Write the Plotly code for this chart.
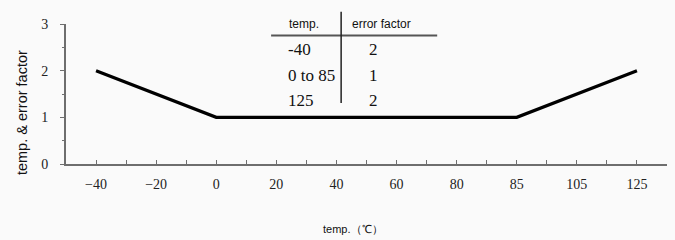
import plotly.graph_objects as go

# ---- data ----
temp_categories = ["-40", "-20", "0", "20", "40", "60", "80", "85", "105", "125"]
line_temps = ["-40", "0", "85", "125"]
error_factor = [2, 1, 1, 2]

table_header = ["temp.", "error factor"]
table_temps = ["-40", "0 to 85", "125"]
table_factors = ["2", "1", "2"]

# ---- layout geometry (pixels) ----
W, H = 675, 240
L, R, T, B = 66, 8.3, 24.3, 76.3
PW, PH = W - L - R, H - T - B


def px(x):
    return (x - L) / PW


def py(y):
    return (H - B - y) / PH


AX = "#6e6e6e"
SERIF = "Liberation Serif, Times New Roman, serif"
SANS = "Liberation Sans, Arial, sans-serif"

fig = go.Figure()
fig.add_trace(go.Scatter(
    x=line_temps, y=error_factor, mode="lines",
    line=dict(color="black", width=3.2), showlegend=False, hoverinfo="skip",
))
# invisible trace on overlay axis to get center ticks
fig.add_trace(go.Scatter(
    x=temp_categories, y=[None] * len(temp_categories), xaxis="x2",
    mode="markers", showlegend=False, hoverinfo="skip",
))

ticktext = [t.replace("-", "\u2212") for t in temp_categories]

fig.update_layout(
    width=W, height=H,
    margin=dict(l=L, r=R, t=T, b=B),
    paper_bgcolor="#fafafa", plot_bgcolor="#fafafa",
    xaxis=dict(
        type="category", categoryorder="array", categoryarray=temp_categories,
        range=[-0.5, len(temp_categories) - 0.5],
        tickmode="array", tickvals=temp_categories, ticktext=ticktext,
        tickson="boundaries", ticks="inside", ticklen=4, tickwidth=1.3, tickcolor=AX,
        showline=True, linecolor=AX, linewidth=2, showgrid=False, zeroline=False,
        tickfont=dict(family=SERIF, size=14, color="#222"),
        ticklabelstandoff=6,
    ),
    xaxis2=dict(
        type="category", categoryorder="array", categoryarray=temp_categories,
        range=[-0.5, len(temp_categories) - 0.5], overlaying="x", side="bottom",
        ticks="inside", ticklen=4, tickwidth=1.3, tickcolor=AX,
        showticklabels=False, showline=False, showgrid=False, zeroline=False,
    ),
    yaxis=dict(
        range=[0, 3], dtick=1, ticks="outside", ticklen=4, tickwidth=1.3, tickcolor=AX,
        minor=dict(ticks="outside", ticklen=2, dtick=0.5, tickcolor=AX, tickwidth=1.3),
        showline=True, linecolor=AX, linewidth=2, showgrid=False, zeroline=False,
        tickfont=dict(family=SERIF, size=14, color="#222"),
        ticklabelstandoff=9,
    ),
)

ann = []
# axis titles
ann.append(dict(x=px(22), y=py(112), xref="paper", yref="paper", text="temp. &amp; error factor",
                textangle=-90, showarrow=False, font=dict(family=SANS, size=14.5, color="#111"),
                xanchor="center", yanchor="middle"))
ann.append(dict(x=px(353), y=py(228), xref="paper", yref="paper", text="temp.\uff08\u2103\uff09",
                showarrow=False, font=dict(family=SANS, size=11, color="#111"),
                xanchor="center", yanchor="middle"))
# table header
ann.append(dict(x=px(287), y=py(24), xref="paper", yref="paper", text=table_header[0],
                showarrow=False, font=dict(family=SANS, size=12, color="#111"),
                xanchor="left", yanchor="middle"))
ann.append(dict(x=px(350), y=py(24), xref="paper", yref="paper", text=table_header[1],
                showarrow=False, font=dict(family=SANS, size=12, color="#111"),
                xanchor="left", yanchor="middle"))
row_y = [50, 76, 100]
for t, f, yy in zip(table_temps, table_factors, row_y):
    ann.append(dict(x=px(286), y=py(yy), xref="paper", yref="paper", text=t,
                    showarrow=False, font=dict(family=SERIF, size=17, color="#111"),
                    xanchor="left", yanchor="middle"))
    ann.append(dict(x=px(373), y=py(yy), xref="paper", yref="paper", text=f,
                    showarrow=False, font=dict(family=SERIF, size=17, color="#111"),
                    xanchor="center", yanchor="middle"))
fig.update_layout(annotations=ann)

fig.add_shape(type="line", xref="paper", yref="paper",
              x0=px(271), x1=px(437), y0=py(35.7), y1=py(35.7),
              line=dict(color="#555", width=2))
fig.add_shape(type="line", xref="paper", yref="paper",
              x0=px(341), x1=px(341), y0=py(12), y1=py(103),
              line=dict(color="#222", width=1.5))

fig.write_html("out.html")
